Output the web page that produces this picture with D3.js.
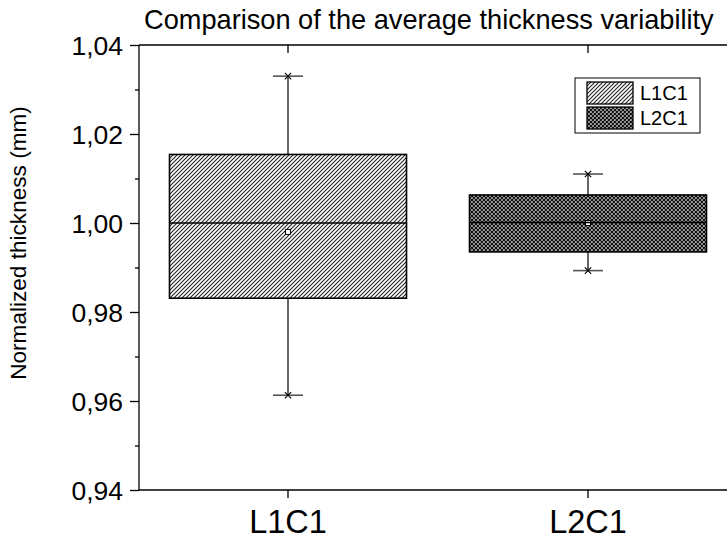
<!DOCTYPE html>
<html>
<head>
<meta charset="utf-8">
<script src="https://cdn.jsdelivr.net/npm/d3@7"></script>
<style>
  html, body { margin: 0; padding: 0; background: #fff; overflow: hidden; }
  svg { display: block; overflow: hidden; font-family: Arial, "Liberation Sans", sans-serif; }
</style>
</head>
<body>
<svg id="chart" width="727" height="542"></svg>
<script>
// Box statistics per sample
const categories  = ["L1C1", "L2C1"];
const whiskerLow  = [0.9613, 0.9893];
const q1          = [0.9831, 0.9935];
const median      = [1.0000, 1.0001];
const q3          = [1.0154, 1.0063];
const whiskerHigh = [1.0330, 1.0110];
const mean        = [0.9980, 1.0000];

const yTicks = [0.94, 0.96, 0.98, 1.00, 1.02, 1.04];
const yMinorTicks = [0.95, 0.97, 0.99, 1.01, 1.03];
const fills = ["url(#hatch)", "url(#cross)"];

const svg = d3.select("#chart");
const m = { left: 139, right: 738, top: 45, bottom: 490 };

const x = d3.scaleBand().domain(categories).range([m.left - 1, m.right]).padding(0);
const y = d3.scaleLinear().domain([0.94, 1.04]).range([m.bottom, m.top]);
const fmt = d => d3.format(".2f")(d).replace(".", ",");

// Fill patterns
const defs = svg.append("defs");
const hatch = defs.append("pattern").attr("id", "hatch")
  .attr("patternUnits", "userSpaceOnUse").attr("width", 4).attr("height", 4);
hatch.append("rect").attr("width", 4).attr("height", 4).attr("fill", "#fff");
hatch.append("path").attr("d", "M-1,1 L1,-1 M0,4 L4,0 M3,5 L5,3")
  .attr("stroke", "#222").attr("stroke-width", 1.1);

const cross = defs.append("pattern").attr("id", "cross")
  .attr("patternUnits", "userSpaceOnUse").attr("width", 4).attr("height", 4);
cross.append("rect").attr("width", 4).attr("height", 4).attr("fill", "#fff");
cross.append("path").attr("d", "M-1,1 L1,-1 M0,4 L4,0 M3,5 L5,3 M-1,3 L1,5 M0,0 L4,4 M3,-1 L5,1")
  .attr("stroke", "#111").attr("stroke-width", 1.4);

// Title
svg.append("text").attr("x", 144).attr("y", 29)
  .attr("font-size", 27.2).attr("fill", "#000")
  .text("Comparison of the average thickness variability");

// Y axis label
svg.append("text")
  .attr("transform", `translate(18,243) rotate(-90)`)
  .attr("text-anchor", "middle").attr("dy", "0.35em").attr("font-size", 22.6)
  .text("Normalized thickness (mm)");

// Boxes
const rows = categories.map((c, i) => ({
  c, lo: whiskerLow[i], q1: q1[i], med: median[i], q3: q3[i], hi: whiskerHigh[i], mean: mean[i], fill: fills[i]
}));
const boxW = x.bandwidth() * 0.79;
const capW = 30;

const g = svg.append("g");
rows.forEach(d => {
  const cx = x(d.c) + x.bandwidth() / 2;
  // whiskers
  g.append("line").attr("x1", cx).attr("x2", cx).attr("y1", y(d.q3)).attr("y2", y(d.hi))
    .attr("stroke", "#000").attr("stroke-width", 1.2);
  g.append("line").attr("x1", cx).attr("x2", cx).attr("y1", y(d.q1)).attr("y2", y(d.lo))
    .attr("stroke", "#000").attr("stroke-width", 1.2);
  [d.hi, d.lo].forEach(v => {
    g.append("line").attr("x1", cx - capW / 2).attr("x2", cx + capW / 2).attr("y1", y(v)).attr("y2", y(v))
      .attr("stroke", "#555").attr("stroke-width", 1.6);
    g.append("path").attr("d", d3.symbol(d3.symbolX, 28)())
      .attr("transform", `translate(${cx},${y(v)})`)
      .attr("stroke", "#000").attr("stroke-width", 1.1).attr("fill", "none");
  });
  // box
  g.append("rect").attr("x", cx - boxW / 2).attr("width", boxW)
    .attr("y", y(d.q3)).attr("height", y(d.q1) - y(d.q3))
    .attr("fill", d.fill).attr("stroke", "#000").attr("stroke-width", 1.6);
  // mean
  g.append("rect").attr("x", cx - 2.5).attr("y", y(d.mean) - 2.5).attr("width", 5).attr("height", 5)
    .attr("fill", "#fff").attr("stroke", "#000").attr("stroke-width", 1);
  // median
  g.append("line").attr("x1", cx - boxW / 2).attr("x2", cx + boxW / 2)
    .attr("y1", y(d.med)).attr("y2", y(d.med))
    .attr("stroke", "#000").attr("stroke-width", 1.5);
});

// Axes frame
const axisStroke = sel => sel.selectAll("path,line").attr("stroke", "#000").attr("stroke-width", 1.3);

const yAxis = svg.append("g").attr("transform", `translate(${m.left},0)`)
  .call(d3.axisLeft(y).tickValues(yTicks).tickFormat(fmt).tickSize(9).tickSizeOuter(0).tickPadding(7));
yAxis.call(axisStroke);
yAxis.selectAll("text").attr("font-size", 26.5).attr("fill", "#000").attr("dy", "0.36em");
yAxis.select(".domain").attr("d", `M0,${m.bottom}V${m.top}`);

const yMinor = svg.append("g").attr("transform", `translate(${m.left},0)`)
  .call(d3.axisLeft(y).tickValues(yMinorTicks).tickFormat("").tickSize(4).tickSizeOuter(0));
yMinor.call(axisStroke);
yMinor.select(".domain").remove();

const xAxis = svg.append("g").attr("transform", `translate(0,${m.bottom})`)
  .call(d3.axisBottom(x).tickSize(8).tickSizeOuter(0));
xAxis.call(axisStroke);
xAxis.selectAll("text").attr("font-size", 32.5).attr("fill", "#000").attr("y", 43).attr("dy", 0);
xAxis.select(".domain").attr("d", `M${m.left},0H${m.right}`);

const xTop = svg.append("g").attr("transform", `translate(0,${m.top})`)
  .call(d3.axisTop(x).tickSize(-8).tickSizeOuter(0).tickFormat(""));
xTop.call(axisStroke);
xTop.select(".domain").attr("d", `M${m.left},0H${m.right}`);

// Legend
const lg = svg.append("g").attr("transform", "translate(575,78)");
lg.append("rect").attr("width", 125).attr("height", 55)
  .attr("fill", "#fff").attr("stroke", "#000").attr("stroke-width", 1);
categories.forEach((c, i) => {
  const ry = 4 + i * 25;
  lg.append("rect").attr("x", 12).attr("y", ry).attr("width", 46).attr("height", 22)
    .attr("fill", fills[i]).attr("stroke", "#000").attr("stroke-width", 1.3);
  lg.append("text").attr("x", 65).attr("y", ry + 18).attr("font-size", 20).text(c);
});
</script>
</body>
</html>
